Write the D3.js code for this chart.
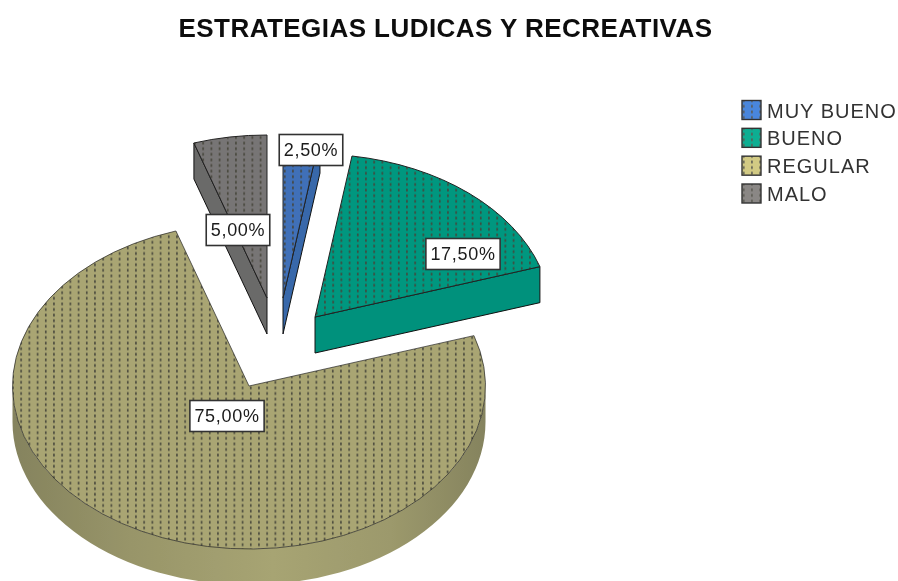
<!DOCTYPE html>
<html>
<head>
<meta charset="utf-8">
<script src="https://cdn.jsdelivr.net/npm/d3@7"></script>
<style>
  html, body { margin: 0; padding: 0; background: #fff; }
  text { font-family: "Liberation Sans", Arial, sans-serif; fill: #1a1a1a; }
</style>
</head>
<body>
<svg id="chart" width="898" height="581"></svg>
<script>
const categories = ["MUY BUENO", "BUENO", "REGULAR", "MALO"];
const values = [2.5, 17.5, 75, 5];
const title = "ESTRATEGIAS LUDICAS Y RECREATIVAS";

const topColors = ["#3f70b8", "#00977f", "#a9a573", "#777474"];
const sideColors = ["#3768aa", "#00917b", "#a5a273", "#6b6a69"];
const legendColors = ["#4a86dc", "#0fae92", "#d2ca84", "#8a8785"];

// exploded position of each slice apex, as offset from the pie centre
const explodeX = [7, 39, -27, -9];
const explodeY = [-51, -32, 37, -51];
const labelDx = [28, 148, -22, -29];
const labelDy = [-148, -63, 30, -68];

const svgEl = d3.select("#chart");
const cx = 276, cy = 349, rx = 236.5, ry = 163, depth = 36;

const defs = svgEl.append("defs");
defs.append("filter").attr("id", "soft")
  .attr("x", 0).attr("y", 0).attr("width", 1).attr("height", 1)
  .append("feGaussianBlur").attr("stdDeviation", 0.4);

// columns of short dashes
function addDots(id, color, dotColor) {
  const w = 8.2, h = 5.6;
  const p = defs.append("pattern").attr("id", id)
    .attr("patternUnits", "userSpaceOnUse")
    .attr("width", w).attr("height", h);
  p.append("rect").attr("width", w).attr("height", h).attr("fill", color);
  p.append("rect").attr("x", 1).attr("y", 0.5).attr("width", 1.5).attr("height", 2.8)
    .attr("fill", dotColor);
}
topColors.forEach((c, i) => addDots("dots" + i, c, "#45453a"));
legendColors.forEach((c, i) => addDots("leg" + i, c, "#5a5a52"));

// rim gradient runs across the pie, in the slice's own coordinates
const rimGrad = defs.append("linearGradient").attr("id", "rim")
  .attr("gradientUnits", "userSpaceOnUse")
  .attr("x1", -rx).attr("x2", rx).attr("y1", 0).attr("y2", 0);
rimGrad.append("stop").attr("offset", 0).attr("stop-color", "#85835e");
rimGrad.append("stop").attr("offset", 0.25).attr("stop-color", "#989569");
rimGrad.append("stop").attr("offset", 0.55).attr("stop-color", "#a7a473");
rimGrad.append("stop").attr("offset", 0.8).attr("stop-color", "#9c996c");
rimGrad.append("stop").attr("offset", 1).attr("stop-color", "#85835e");

const root = svgEl.append("g").attr("filter", "url(#soft)");

root.append("text")
  .attr("x", 445.5).attr("y", 37)
  .attr("text-anchor", "middle")
  .style("font-size", "26px").style("font-weight", "bold")
  .style("letter-spacing", "0.45px")
  .style("fill", "#111")
  .text(title);

const pie = d3.pie().sort(null)(values);
const px = a => rx * Math.sin(a);
const py = a => -ry * Math.cos(a);

const slices = root.append("g");
const order = [2, 3, 0, 1];

order.forEach(i => {
  const s = pie[i];
  const g = slices.append("g")
    .attr("transform", `translate(${cx + explodeX[i]},${cy + explodeY[i]})`);
  const a0 = s.startAngle, a1 = s.endAngle;
  const large = a1 - a0 > Math.PI ? 1 : 0;

  // rim, only the part that faces the viewer
  const r0 = Math.max(a0, Math.PI / 2), r1 = Math.min(a1, 3 * Math.PI / 2);
  if (r1 > r0) {
    const rim = `M${px(r0)},${py(r0)}A${rx},${ry} 0 0 1 ${px(r1)},${py(r1)}` +
      `L${px(r1)},${py(r1) + depth}A${rx},${ry} 0 0 0 ${px(r0)},${py(r0) + depth}Z`;
    g.append("path").attr("d", rim).attr("fill", "url(#rim)");
  }

  // cut faces
  const faces = [];
  if (Math.sin(a1) > 0.01) faces.push(a1);
  if (Math.sin(a0) < -0.01) faces.push(a0);
  faces.forEach(a => {
    g.append("path")
      .attr("d", `M0,0L${px(a)},${py(a)}L${px(a)},${py(a) + depth}L0,${depth}Z`)
      .attr("fill", sideColors[i])
      .attr("stroke", "#111").attr("stroke-width", 1).attr("stroke-linejoin", "round");
  });

  // top face
  g.append("path")
    .attr("d", `M0,0L${px(a0)},${py(a0)}A${rx},${ry} 0 ${large} 1 ${px(a1)},${py(a1)}Z`)
    .attr("fill", `url(#dots${i})`)
    .attr("stroke", "#222").attr("stroke-width", i === 2 ? 0.7 : 1)
    .attr("stroke-linejoin", "round");
});

// value labels
const labels = root.append("g");
pie.forEach((s, i) => {
  const lx = cx + explodeX[i] + labelDx[i], ly = cy + explodeY[i] + labelDy[i];
  const str = d3.format(".2f")(values[i]).replace(".", ",") + "%";
  const g = labels.append("g").attr("transform", `translate(${lx},${ly})`);
  const box = g.append("rect");
  const t = g.append("text")
    .attr("text-anchor", "middle").attr("y", 6)
    .style("font-size", "18px")
    .style("letter-spacing", "0.7px")
    .text(str);
  const w = t.node().getComputedTextLength() + 9;
  box.attr("x", -w / 2).attr("y", -15.5).attr("width", w).attr("height", 31)
    .attr("fill", "#fff").attr("stroke", "#333").attr("stroke-width", 1.6);
});

// legend
const legendY = d3.scalePoint().domain(categories).range([110, 193.5]);
const legend = root.append("g").selectAll("g")
  .data(categories).enter().append("g")
  .attr("transform", d => `translate(742,${legendY(d)})`);
legend.append("rect")
  .attr("x", 0).attr("y", -9.5).attr("width", 19).attr("height", 19)
  .attr("fill", (d, i) => `url(#leg${i})`)
  .attr("stroke", "#333").attr("stroke-width", 1.4);
legend.append("text")
  .attr("x", 25).attr("y", 7.5)
  .style("font-size", "20px")
  .style("letter-spacing", "1px")
  .style("fill", "#333")
  .text(d => d);
</script>
</body>
</html>
